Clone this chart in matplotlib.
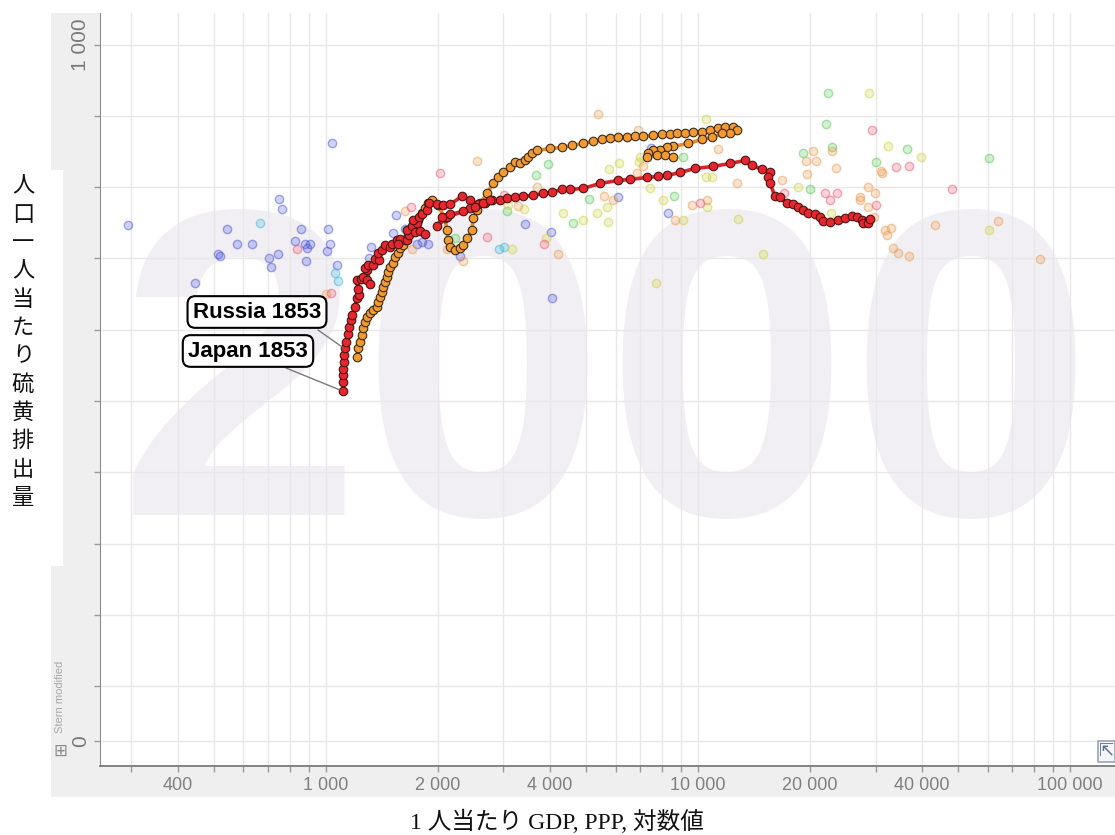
import matplotlib
matplotlib.use("Agg")
import matplotlib.pyplot as plt
from matplotlib.patches import Rectangle, ConnectionPatch
from matplotlib.ticker import FixedLocator, NullFormatter, NullLocator
from matplotlib.colors import to_rgba

plt.rcParams['font.family'] = ['Liberation Sans', 'Noto Sans CJK JP', 'DejaVu Sans']

# ---------------- text ----------------
YEAR = "2000"
x_title = "1 人当たり GDP, PPP, 対数値"
y_title = "人口一人当たり硫黄排出量"
source_note = "Stern modified"

x_tick_values = [400, 1000, 2000, 4000, 10000, 20000, 40000, 100000]
x_tick_labels = ["400", "1 000", "2 000", "4 000", "10 000", "20 000", "40 000", "100 000"]
y_tick_values = [0, 1e-6, 1e-5, 1e-4, 1e-3, 1e-2, 1e-1, 1, 10, 100, 1000]
y_tick_labels = ["0", "", "", "", "", "", "", "", "", "", "1 000"]

# ---------------- other countries, year 2000 (GDP per capita, sulfur per person) ----------------
africa_gdp = [1038, 748, 762, 294, 542, 577, 632, 513, 519, 703, 743, 711, 445, 857, 826, 879, 906, 889, 884,
              1012, 1025, 1006, 1070, 1542, 1514, 1321, 1305, 4055, 7482, 6096, 3427, 4027, 2291, 1630, 1757,
              1811, 1880, 8299]
africa_sulfur = [41, 6.9, 4.9, 2.9, 2.55, 1.62, 1.62, 1.17, 1.10, 1.03, 1.14, 0.77, 0.46, 2.6, 1.73, 1.57, 1.62,
                 1.38, 0.91, 2.55, 1.62, 1.29, 0.82, 4.1, 2.24, 1.43, 1.0, 0.28, 34.9, 7.2, 3.0, 2.32, 1.10, 2.6,
                 1.62, 1.68, 1.57, 4.4]

south_asia_gdp = [665, 1057, 1077, 1640, 2917, 3008]
south_asia_sulfur = [3.1, 0.62, 0.49, 2.55, 1.34, 1.43]

mena_gdp = [3953, 3669, 9120, 8610, 5094, 4613, 3067, 2222, 22080, 36480, 19150, 22910, 30090, 60560, 20000, 22340]
mena_sulfur = [20.8, 14.6, 26.1, 7.4, 6.9, 3.1, 4.6, 1.91, 78, 33.8, 29.7, 36, 22.2, 25.3, 9.3, 206]

america_gdp = [5763, 6138, 6982, 6934, 7430, 8054, 10570, 10510, 10910, 12820, 5689, 5350, 5728, 4909, 4339,
               3406, 3085, 3901, 3162, 9120, 7709, 10510, 28810, 32420, 39740, 18570, 22780, 14950, 60560]
america_sulfur = [17.7, 21.5, 26.1, 22.2, 9.6, 6.5, 5.2, 14.1, 13.7, 3.6, 5.2, 4.4, 3.2, 3.5, 4.4, 5.0, 5.7,
                  1.91, 1.34, 3.5, 0.46, 89, 206, 37.2, 26.1, 9.9, 4.3, 1.17, 2.47]

europe_gdp = [5383, 6902, 2545, 7112, 6855, 9640, 10570, 12730, 11320, 5585, 5910, 3282, 4207, 3690, 2334, 2113,
              8670, 1630, 1703, 1000, 20370, 22910, 19500, 20750, 23500, 31040, 31230, 16820, 19620, 27250, 27250,
              28640, 29920, 28640, 29720, 31840, 33030, 32220, 33440, 34510, 36900, 43330, 63980, 82960]
europe_sulfur = [105, 62.4, 22.9, 19.5, 15.6, 5.7, 6.5, 11.3, 33.8, 7.4, 6.7, 5.4, 1.14, 10.2, 0.91, 1.34, 3.5,
                 4.6, 1.34, 0.32, 31.7, 31.7, 22.9, 22.9, 18.3, 17.1, 15.6, 12.8, 15.1, 7.2, 6.7, 9.9, 8.2, 5.2,
                 3.8, 2.47, 2.7, 2.10, 1.38, 1.21, 1.07, 2.9, 3.4, 0.97]

east_asia_gdp = [836, 1692, 1031, 2023, 10120, 3008, 2709, 3855, 29380, 34060, 36900, 17030, 21950, 22630, 23660,
                 30090, 48170]
east_asia_sulfur = [1.34, 5.2, 0.33, 15.6, 5.9, 7.7, 1.97, 1.62, 62.4, 18.9, 20.1, 8.4, 8.2, 6.7, 8.4, 5.7, 9.3]

# ---------------- trails 1853 -> 2000 ----------------
japan_gdp = [1109, 1113, 1113, 1114, 1118, 1120, 1125, 1132, 1144, 1155,
             1165, 1175, 1197, 1209, 1229, 1221, 1209, 1240, 1260, 1291,
             1313, 1291, 1273, 1299, 1340, 1354, 1391, 1382, 1411, 1441,
             1486, 1502, 1549, 1581, 1565, 1648, 1675, 1654, 1700, 1735,
             1789, 1845, 1753, 1717, 1781, 1808, 1872, 1896, 1985, 2067,
             2154, 2317, 2438, 2567, 2676, 2789, 2438, 2115, 1988, 2050,
             2154, 2335, 2515, 2642, 2760, 2937, 3066, 3222, 3385, 3602,
             3832, 4052, 4309, 4528, 4909, 5453, 6096, 6566, 7294, 7810,
             8257, 8948, 9815, 10970, 12190, 13370, 13970, 14860, 15620, 15430,
             15620, 16100, 16610, 17350, 18000, 18570, 19150, 19750, 20630, 21280,
             21680, 22640, 23790, 24850, 25940, 26760, 27600, 28470, 27770, 28640, 29000]
japan_sulfur = [0.0138, 0.0184, 0.0229, 0.0286, 0.0352, 0.0437, 0.0547, 0.067, 0.0859, 0.1088,
                0.135, 0.159, 0.2075, 0.281, 0.303, 0.376, 0.491, 0.508, 0.547, 0.491,
                0.432, 0.694, 0.741, 0.798, 0.798, 0.990, 0.937, 1.187, 1.295, 1.521,
                1.440, 1.608, 1.829, 1.889, 1.608, 1.789, 2.102, 2.470, 2.811, 2.338,
                2.415, 2.221, 3.127, 3.490, 3.795, 4.236, 4.713, 5.965, 5.85, 5.54,
                5.72, 7.41, 6.66, 5.72, 5.965, 6.51, 5.03, 3.758, 2.811, 3.758,
                4.14, 4.563, 5.19, 5.91, 6.51, 6.51, 6.94, 7.17, 7.41, 7.65,
                8.16, 8.43, 9.29, 9.29, 9.59, 11.27, 12.42, 12.82, 13.68, 14.13,
                14.59, 16.08, 18.29, 19.5, 21.5, 23.67, 20.15, 17.7, 16.08, 13.68,
                11.27, 7.41, 7.17, 5.91, 5.72, 5.19, 4.71, 4.28, 4.14, 3.76,
                3.30, 3.20, 3.41, 3.64, 3.88, 3.76, 3.41, 3.20, 3.10, 3.10, 3.52]

russia_gdp = [1209, 1219, 1234, 1250, 1257, 1273, 1289, 1313, 1337, 1371,
              1380, 1397, 1414, 1423, 1441, 1459, 1468, 1486, 1514, 1533,
              1562, 1581, 1611, 1631, 1661, 1703, 1735, 1767, 1812, 1845,
              1880, 1927, 2000, 2089, 2115, 2128, 2154, 2222, 2292, 2335,
              2393, 2469, 2484, 2546, 2594, 2709, 2812, 2900, 2991, 3123,
              3222, 3323, 3428, 3491, 3580, 3692, 4002, 4309, 4585, 4909,
              5221, 5520, 5800, 6096, 6445, 6770, 7115, 7570, 8000, 8410,
              8780, 9230, 9700, 10250, 10770, 11320, 11820, 12420, 12730, 12190,
              11600, 10900, 10250, 9400, 8570, 8260, 7900, 7570, 7340, 7290, 7760, 8150, 8570]
russia_sulfur = [0.0413, 0.0547, 0.0664, 0.0832, 0.1043, 0.1266, 0.1488, 0.1693, 0.1865, 0.2055,
                 0.2415, 0.2838, 0.3335, 0.392, 0.4605, 0.5413, 0.6361, 0.748, 0.851, 1.033,
                 1.175, 1.381, 1.521, 1.789, 2.102, 2.470, 2.903, 3.412, 4.277, 5.026,
                 5.908, 6.51, 5.54, 3.64, 2.470, 1.789, 1.427, 1.295, 1.381, 1.521,
                 1.908, 2.470, 3.64, 4.713, 5.908, 8.16, 11.27, 13.68, 16.08, 18.89,
                 22.2, 21.5, 23.67, 26.1, 29.7, 32.7, 34.9, 36.0, 38.5, 41.0,
                 43.8, 46.7, 48.2, 49.8, 49.8, 51.4, 51.4, 53.1, 54.8, 54.8,
                 56.6, 56.6, 58.5, 58.5, 62.4, 66.6, 68.8, 68.8, 62.4, 56.6,
                 56.6, 49.8, 46.7, 41.0, 37.2, 36.0, 32.7, 32.7, 29.7, 26.1, 27.8, 27.8, 26.1]

label_russia = "Russia 1853"
label_japan = "Japan 1853"

# ---------------- figure ----------------
W, H = 1115, 835
fig = plt.figure(figsize=(W / 100, H / 100), dpi=100)


def fx(px):
    return px / W


def fy(py):
    return 1 - py / H


# grey axis bands + white box for the y title
fig.patches.append(Rectangle((fx(51), fy(797)), fx(1115) - fx(51), (797 - 766) / H,
                             transform=fig.transFigure, facecolor='#efefef', edgecolor='none', zorder=-3))
fig.patches.append(Rectangle((fx(51), fy(797)), (100 - 51) / W, (797 - 13) / H,
                             transform=fig.transFigure, facecolor='#efefef', edgecolor='none', zorder=-3))
fig.patches.append(Rectangle((0, fy(566)), 63 / W, (566 - 170) / H,
                             transform=fig.transFigure, facecolor='white', edgecolor='none', zorder=-2))

ax = fig.add_axes([fx(100), fy(766), (1115 - 100) / W, (766 - 13) / H])
ax.set_xscale('log')
ax.set_yscale('symlog', linthresh=1e-6, linscale=0.694, base=10)
ax.set_xlim(247, 132000)
ax.set_ylim(-4.5e-7, 2770)

# ticks
minor_x = [m * 10 ** e for e in (2, 3, 4) for m in range(1, 10)]
minor_x = [v for v in minor_x if 247 < v < 132000 and v not in x_tick_values]
ax.xaxis.set_major_locator(FixedLocator(x_tick_values))
ax.xaxis.set_minor_locator(FixedLocator(minor_x))
ax.xaxis.set_minor_formatter(NullFormatter())
ax.set_xticks(x_tick_values, x_tick_labels)
ax.yaxis.set_minor_locator(NullLocator())
ax.set_yticks(y_tick_values, y_tick_labels, rotation=90, va='center')

ax.tick_params(axis='x', which='both', direction='out', length=4, width=1, color='#9a9a9a',
               pad=4, labelsize=13, labelcolor='#808080')
ax.tick_params(axis='y', which='major', direction='out', length=4, width=1, color='#9a9a9a',
               pad=3, labelsize=15, labelcolor='#7a7a7a')

for side in ('top', 'right'):
    ax.spines[side].set_visible(False)
ax.spines['left'].set_color('#8c8c8c')
ax.spines['bottom'].set_color('#707070')
ax.spines['bottom'].set_linewidth(1.2)

ax.set_axisbelow(True)
ax.grid(True, which='both', axis='x', color='#e8e8e8', lw=1)
ax.grid(True, which='major', axis='y', color='#e8e8e8', lw=1)

# year watermark
ax.text(fx(606), fy(515), YEAR, transform=fig.transFigure, fontsize=316, fontweight='bold',
        color='#f1eff4', ha='center', va='baseline', zorder=0)

# faint bubbles
regions = [
    (africa_gdp, africa_sulfur, '#4a55d8'),
    (south_asia_gdp, south_asia_sulfur, '#3cb9d8'),
    (mena_gdp, mena_sulfur, '#55c855'),
    (america_gdp, america_sulfur, '#cfd23a'),
    (europe_gdp, europe_sulfur, '#ee9a4c'),
    (east_asia_gdp, east_asia_sulfur, '#ec5a72'),
]
for g, s, c in regions:
    ax.scatter(g, s, s=36, facecolor=to_rgba(c, 0.26), edgecolor=to_rgba(c, 0.5),
               linewidths=1.0, zorder=3)

# trails
ax.plot(russia_gdp, russia_sulfur, color='#e48a26', lw=2.6, zorder=4, solid_capstyle='round')
ax.scatter(russia_gdp, russia_sulfur, s=38, facecolor='#f29a32', edgecolor='#3a2a12',
           linewidths=0.8, zorder=5)
ax.plot(japan_gdp, japan_sulfur, color='#d8242a', lw=2.6, zorder=6, solid_capstyle='round')
ax.scatter(japan_gdp, japan_sulfur, s=38, facecolor='#e8262e', edgecolor='#4a1414',
           linewidths=0.8, zorder=7)

# labels (boxes) and their leader lines
box = dict(boxstyle='round,pad=0.24,rounding_size=0.35', fc='white', ec='black', lw=1.5)
fig.text(fx(257), fy(312), label_russia, ha='center', va='center', fontsize=16, fontweight='bold',
         bbox=box, zorder=10)
fig.text(fx(248), fy(351), label_japan, ha='center', va='center', fontsize=16, fontweight='bold',
         bbox=box, zorder=10)
leader_r = ConnectionPatch(xyA=(318, H - 330), coordsA='figure pixels',
                           xyB=(russia_gdp[0], russia_sulfur[0]), coordsB='data', axesB=ax,
                           arrowstyle='-', color='#7a7a7a', lw=1, shrinkA=0, shrinkB=13, zorder=9)
leader_j = ConnectionPatch(xyA=(286, H - 368), coordsA='figure pixels',
                           xyB=(japan_gdp[0], japan_sulfur[0]), coordsB='data', axesB=ax,
                           arrowstyle='-', color='#7a7a7a', lw=1, shrinkA=0, shrinkB=3, zorder=9)
ax.add_artist(leader_r)
ax.add_artist(leader_j)

# axis titles
for i, ch in enumerate(y_title):
    fig.text(fx(23), fy(187 + i * 28.3), ch, ha='center', va='center', fontsize=16, color='#111111')
fig.text(fx(557), fy(822), x_title, ha='center', va='center', fontsize=17, color='#111111',
         family=['Liberation Serif', 'Noto Sans CJK JP'])

# small decorations
fig.text(fx(60), fy(697), source_note, rotation=90, fontsize=8, color='#a8a8a8', ha='center', va='center')
fig.text(fx(60), fy(751), '⊞', fontsize=12, color='#8a8a8a', ha='center', va='center', family='DejaVu Sans')
fig.patches.append(Rectangle((fx(1098), fy(762)), 17 / W, 21 / H, transform=fig.transFigure,
                             facecolor='#f3f5f8', edgecolor='#9aa5b5', lw=1.2, zorder=5))
fig.text(fx(1106), fy(751), '⇱', fontsize=13, color='#60708a', ha='center', va='center',
         family='DejaVu Sans', zorder=6)

fig.savefig('out.png', dpi=100)
